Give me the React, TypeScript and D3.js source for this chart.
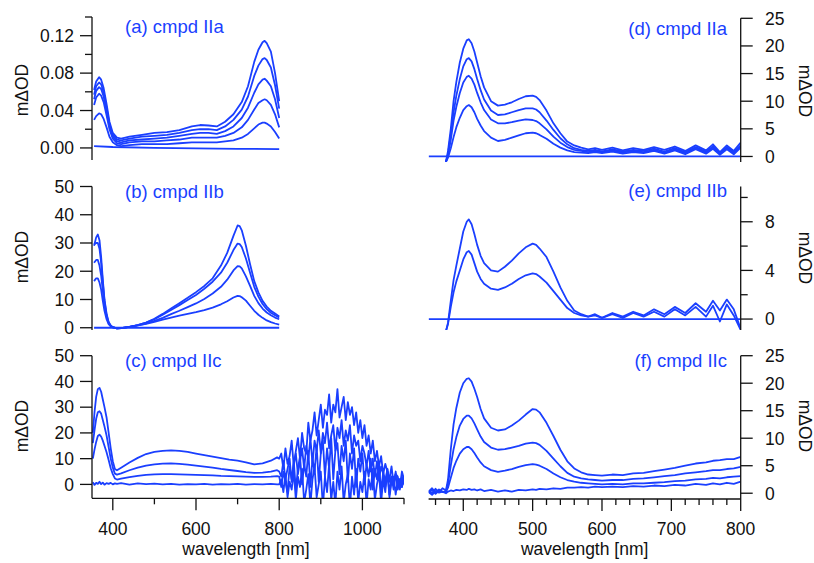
import React from "react";
import * as d3 from "d3";

// ---------- data ----------
const aLambda = [355, 360, 367, 372, 378, 385, 392, 400, 410, 420, 440, 470, 500, 530, 560, 590, 610, 630, 650, 670, 690, 710, 725, 740, 750, 760, 765, 770, 780, 790, 800];
const a1 = [0.062, 0.071, 0.0757, 0.073, 0.064, 0.047, 0.028, 0.016, 0.011, 0.010, 0.012, 0.014, 0.016, 0.017, 0.019, 0.023, 0.0245, 0.024, 0.023, 0.028, 0.036, 0.049, 0.066, 0.092, 0.105, 0.113, 0.1145, 0.112, 0.103, 0.080, 0.050];
const a2 = [0.057, 0.066, 0.070, 0.068, 0.059, 0.043, 0.025, 0.014, 0.009, 0.008, 0.010, 0.012, 0.013, 0.014, 0.016, 0.019, 0.020, 0.020, 0.019, 0.023, 0.030, 0.041, 0.055, 0.077, 0.088, 0.095, 0.096, 0.094, 0.086, 0.067, 0.042];
const a3 = [0.052, 0.061, 0.065, 0.063, 0.055, 0.040, 0.023, 0.012, 0.007, 0.006, 0.008, 0.009, 0.010, 0.011, 0.013, 0.015, 0.016, 0.016, 0.015, 0.018, 0.023, 0.032, 0.043, 0.059, 0.068, 0.073, 0.074, 0.072, 0.066, 0.052, 0.032];
const a4 = [0.046, 0.054, 0.058, 0.056, 0.049, 0.035, 0.020, 0.010, 0.005, 0.004, 0.006, 0.007, 0.007, 0.008, 0.009, 0.011, 0.011, 0.011, 0.011, 0.013, 0.016, 0.022, 0.030, 0.041, 0.048, 0.051, 0.052, 0.051, 0.046, 0.036, 0.022];
const a5 = [0.030, 0.034, 0.037, 0.036, 0.031, 0.022, 0.012, 0.006, 0.003, 0.002, 0.003, 0.004, 0.004, 0.004, 0.005, 0.006, 0.006, 0.006, 0.006, 0.007, 0.008, 0.011, 0.015, 0.021, 0.025, 0.027, 0.027, 0.026, 0.023, 0.017, 0.010];
const a0Lambda = [355, 400, 500, 600, 700, 800];
const a0 = [0.002, 0.001, 0.0, -0.0005, -0.001, -0.0012];

const bLambda = [355, 360, 364, 368, 372, 376, 380, 385, 390, 395, 400, 410, 420, 440, 460, 480, 500, 520, 540, 560, 580, 600, 620, 640, 660, 675, 690, 700, 705, 710, 720, 730, 740, 750, 760, 770, 780, 790, 800];
const b1 = [29, 32, 33, 31, 25, 17, 10, 5, 2, 0.8, 0.2, -0.2, -0.1, 0.3, 0.9, 1.8, 3.2, 4.9, 6.8, 8.7, 10.6, 12.6, 14.8, 17.5, 22, 26.5, 32.5, 36.2, 36, 34.5, 29, 22.5, 16.5, 12.5, 9.5, 7.5, 6, 5, 4];
const b2 = [29.5, 30, 30, 28, 23, 16, 9.5, 4.5, 1.8, 0.7, 0.2, -0.2, -0.1, 0.3, 0.9, 1.8, 3.0, 4.6, 6.3, 8.0, 9.8, 11.6, 13.8, 16.3, 19.5, 23, 27.5, 29.8, 29.6, 28.6, 24.5, 19.5, 14.5, 11, 8.4, 6.6, 5.3, 4.4, 3.6];
const b3 = [23, 24, 24, 22, 18.5, 13, 8, 4, 1.6, 0.6, 0.1, -0.2, -0.1, 0.3, 0.8, 1.5, 2.4, 3.5, 4.8, 6.0, 7.3, 8.6, 10.2, 12.1, 14.5, 17, 20.3, 21.8, 21.7, 21, 18.2, 14.8, 11.3, 8.7, 6.8, 5.4, 4.4, 3.6, 3.0];
const b4 = [16.5, 17.5, 17.5, 16, 13.5, 9.5, 6, 3, 1.3, 0.5, 0.1, -0.2, -0.1, 0.3, 0.8, 1.4, 2.1, 2.9, 3.6, 4.3, 4.9, 5.5, 6.2, 7.1, 8.3, 9.4, 10.7, 11.3, 11.2, 10.8, 9.6, 7.8, 6.0, 4.6, 3.5, 2.6, 2.0, 1.5, 1.1];
const zeroLambdaB = [355, 800];
const zeroB = [0, 0];

const cLambda = [352, 356, 360, 364, 368, 372, 376, 380, 385, 390, 395, 400, 405, 410, 420, 440, 460, 480, 500, 520, 540, 560, 580, 600, 620, 640, 660, 680, 700, 720, 740, 760, 780, 795,
  800, 805, 810, 815, 820, 825, 830, 835, 840, 845, 850, 855, 860, 865, 870, 875, 880, 885, 890, 895, 900, 905, 910, 915, 920, 925, 930, 935, 940, 945, 950, 955, 960, 965, 970, 975, 980, 985, 990, 995, 1000, 1005, 1010, 1015, 1020, 1025, 1030, 1035, 1040, 1045, 1050, 1055, 1060, 1065, 1070, 1075, 1080, 1085, 1090, 1095, 1100];
const c1 = [20, 28, 34, 37, 37.5, 36, 33, 30, 26, 20, 14, 9, 6, 5.5, 6.5, 8.5, 10.3, 11.8, 12.6, 13.0, 13.2, 13.0, 12.6, 12, 11.4, 10.8, 10.2, 9.6, 9.2, 8.6, 7.8, 8.2, 9.2, 10.5,
  10, 12, 6, 14, 8, 11, 17, 7, 13, 18, 10, 20, 14, 12, 24, 17, 21, 28, 19, 25, 31, 22, 29, 27, 35, 24, 31, 28, 37, 26, 30, 34, 25, 32, 27, 30, 23, 28, 20, 25, 18, 23, 15, 19, 12, 17, 9, 13, 7, 11, 4, 8, 5, 2, 7, 0, 4, 3, -1, 5, 2];
const c2 = [16, 21, 25.5, 28, 28.4, 27.5, 25, 22.5, 19, 14.5, 10, 6.5, 4.2, 3.8, 4.3, 5.5, 6.5, 7.3, 7.8, 8.1, 8.2, 8.0, 7.7, 7.3, 6.9, 6.5, 6.0, 5.6, 5.2, 4.8, 4.5, 4.6, 5.0, 5.5,
  5, 3, 9, 2, 6, 10, 1, 8, 12, 4, 9, 14, 6, 15, 10, 18, 8, 17, 13, 21, 12, 20, 16, 24, 14, 19, 23, 13, 22, 18, 25, 15, 21, 17, 23, 12, 19, 15, 17, 9, 15, 12, 7, 13, 5, 10, 3, 9, 2, 7, 4, -1, 6, 1, 3, -2, 4, 0, 2, -1, 3];
const c3 = [10, 13.5, 16.5, 18.8, 19.3, 18.6, 17, 15, 12.5, 9.5, 6.3, 4, 2.3, 1.9, 2.2, 2.8, 3.3, 3.7, 3.9, 4.0, 4.0, 3.9, 3.8, 3.7, 3.6, 3.5, 3.3, 3.2, 3.1, 3.0, 2.9, 2.9, 3.0, 3.2,
  3, -1, 5, 1, -3, 7, 2, 9, -2, 6, 11, 0, 8, 3, 13, -1, 10, 5, 15, 1, 12, 17, 3, 14, 6, 18, 2, 13, 16, 4, 15, 9, 17, 1, 12, 6, 14, -1, 10, 5, 12, 0, 8, 3, 10, -2, 6, 2, 8, -3, 5, 1, 6, -4, 3, 0, 5, -2, 2, -1, 3];
const c0 = [0.8, -0.2, 0.6, 0.2, 1.0, 0.1, 0.7, -0.1, 0.5, 0.2, 0.6, 0.0, 0.4, 0.2, 0.5, -0.1, 0.4, 0.1, 0.3, 0.0, 0.2, -0.1, 0.1, 0.0, 0.2, -0.1, 0.1, 0.0, 0.2, -0.1, 0.1, 0.0, 0.2, 0.0,
  0, 2, -3, 4, -5, 1, -2, 5, -6, 3, -1, 6, -7, -2, 4, -8, 2, 7, -5, 0, 5, -9, 3, -3, 8, -6, 1, -8, 5, -2, 7, -7, 0, 4, -9, 3, -4, 6, -7, 1, -3, 5, -8, 2, -2, 6, -6, 0, 4, -7, 2, -3, 5, -5, 1, 3, -4, 2, -2, 3, 0];

const dLambda = [375, 378, 382, 386, 390, 395, 400, 405, 408, 412, 416, 420, 425, 430, 440, 450, 460, 470, 480, 490, 500, 505, 510, 520, 530, 540, 550, 560, 570, 580, 590, 600, 615, 630, 645, 660, 675, 690, 705, 720, 735, 750, 760, 770, 780, 790, 800];
const d1 = [-1, 1, 5, 10, 13.5, 17, 19.5, 21, 21.2, 20.5, 19, 17, 14.5, 12.5, 10, 9.2, 9.4, 9.8, 10.4, 10.9, 11, 10.8, 10.2, 8.3, 6, 4.2, 2.7, 2, 1.6, 1.3, 1.5, 1.2, 1.6, 1.1, 1.5, 1.2, 1.7, 1.2, 1.8, 1.0, 2.0, 1.1, 2.2, 0.8, 2.0, 1.0, 2.5];
const d2 = [-1, 0.5, 4, 8, 11, 14, 16.3, 17.6, 17.8, 17.2, 15.8, 14, 12, 10.3, 8.3, 7.5, 7.6, 8.0, 8.4, 8.7, 8.7, 8.5, 8, 6.5, 4.8, 3.3, 2.2, 1.5, 1.2, 1.0, 1.2, 0.9, 1.3, 0.9, 1.2, 1.0, 1.4, 0.9, 1.5, 0.8, 1.7, 0.9, 1.8, 0.6, 1.7, 0.8, 2.0];
const d3v = [-1, 0.3, 3, 6.5, 9, 11.5, 13.4, 14.4, 14.6, 14.1, 13, 11.5, 9.8, 8.4, 6.7, 6.0, 6.0, 6.2, 6.5, 6.7, 6.6, 6.4, 6.0, 4.9, 3.6, 2.5, 1.7, 1.2, 1.0, 0.8, 1.0, 0.8, 1.1, 0.7, 1.0, 0.8, 1.2, 0.7, 1.3, 0.6, 1.5, 0.7, 1.6, 0.5, 1.5, 0.6, 1.8];
const d4 = [-1, -0.2, 1.5, 3.5, 5.3, 7, 8.4, 9.1, 9.3, 8.9, 8, 6.8, 5.6, 4.6, 3.4, 2.8, 3.0, 3.4, 3.8, 4.2, 4.3, 4.2, 3.9, 3.2, 2.3, 1.6, 1.1, 0.8, 0.7, 0.6, 0.8, 0.6, 0.9, 0.5, 0.8, 0.6, 1.0, 0.5, 1.1, 0.4, 1.3, 0.5, 1.4, 0.3, 1.3, 0.4, 1.6];
const zeroLambdaR = [350, 800];
const zeroR = [0, 0];

const e1 = [-1, -0.3, 1.5, 3.2, 4.4, 5.8, 7.2, 8.0, 8.2, 7.8, 7.0, 6.1, 5.2, 4.6, 4.0, 3.9, 4.3, 4.8, 5.4, 5.9, 6.2, 6.1, 5.8, 5.1, 3.9, 2.6, 1.5, 0.7, 0.4, 0.2, 0.4, 0.1, 0.5, 0.2, 0.6, 0.3, 0.8, 0.4, 1.0, 0.5, 1.3, 0.6, 1.5, 0.7, 1.6, 0.8, -0.8];
const e2 = [-1, -0.4, 1.0, 2.2, 3.1, 4.0, 4.9, 5.5, 5.6, 5.3, 4.6, 3.9, 3.3, 2.9, 2.5, 2.4, 2.6, 2.9, 3.3, 3.6, 3.75, 3.7, 3.5, 3.0, 2.3, 1.6, 0.9, 0.5, 0.3, 0.2, 0.3, 0.1, 0.4, 0.1, 0.5, 0.2, 0.6, 0.2, 0.8, 0.3, 1.0, 0.2, 1.1, -0.2, 1.2, 0.3, -0.9];

const fLambda = [350, 355, 360, 365, 370, 375, 378, 382, 386, 390, 395, 400, 405, 408, 412, 416, 420, 425, 430, 440, 450, 460, 470, 480, 490, 500, 505, 510, 520, 530, 540, 550, 560, 570, 580, 590, 600, 615, 630, 645, 660, 675, 690, 705, 720, 735, 750, 760, 770, 780, 790, 800];
const f1 = [0.5, 0, 0.8, 0.2, 0.9, 0.5, 2.5, 8, 12.5, 15.5, 18.3, 20, 20.8, 20.9, 20.3, 19, 17.5, 15.3, 13.6, 11.9, 11.4, 11.6, 12.3, 13.2, 14.3, 15.3, 15.2, 14.7, 12.8, 10.4, 7.9, 5.8, 4.5, 3.8, 3.4, 3.3, 3.2, 3.4, 3.3, 3.6, 3.7, 4.0, 4.3, 4.6, 5.0, 5.4, 5.6, 5.9, 6.0, 6.2, 6.2, 6.6];
const f2 = [0.3, 0.9, 0.1, 0.7, 0.2, 0.4, 1.8, 5, 8, 10.2, 12.3, 13.5, 14.1, 14.1, 13.6, 12.7, 11.6, 10.3, 9.3, 8.3, 7.9, 8.0, 8.3, 8.6, 9.0, 9.2, 9.1, 8.8, 7.7, 6.3, 4.9, 3.7, 3.0, 2.7, 2.5, 2.4, 2.3, 2.4, 2.4, 2.6, 2.7, 2.9, 3.1, 3.3, 3.6, 3.8, 4.0, 4.2, 4.2, 4.4, 4.5, 4.8];
const f3 = [0.1, 0.6, -0.1, 0.5, 0.3, 0.2, 1.0, 2.8, 4.6, 5.9, 7.2, 8.0, 8.4, 8.4, 8.0, 7.3, 6.5, 5.6, 4.9, 4.2, 3.9, 4.1, 4.4, 4.8, 5.1, 5.3, 5.2, 5.0, 4.4, 3.6, 2.9, 2.4, 2.1, 1.9, 1.8, 1.7, 1.6, 1.7, 1.6, 1.8, 1.8, 1.9, 2.0, 2.2, 2.3, 2.5, 2.6, 2.8, 2.7, 2.9, 3.0, 3.1];
const f4 = [0.2, -0.3, 0.4, 0.1, 0.3, 0.0, 0.3, 0.5, 0.4, 0.6, 0.5, 0.7, 0.6, 0.8, 0.6, 0.7, 0.5, 0.7, 0.4, 0.6, 0.3, 0.5, 0.3, 0.6, 0.5, 0.7, 0.6, 0.8, 0.7, 0.9, 0.8, 1.0, 1.0, 1.1, 1.0, 1.2, 1.1, 1.2, 1.1, 1.3, 1.2, 1.4, 1.3, 1.5, 1.4, 1.7, 1.5, 1.8, 1.6, 1.9, 1.7, 2.1];

// ticks
const aTicks = [0, 0.04, 0.08, 0.12];
const aTickLabels = ["0.00", "0.04", "0.08", "0.12"];
const aMinor = [0.02, 0.06, 0.10, 0.14];
const bTicks = [0, 10, 20, 30, 40, 50];
const cTicks = [0, 10, 20, 30, 40, 50];
const dTicks = [0, 5, 10, 15, 20, 25];
const eTicks = [0, 4, 8];
const eMinor = [2, 6, 10];
const fTicks = [0, 5, 10, 15, 20, 25];
const xLeftTicks = [400, 600, 800, 1000];
const xLeftMinor = [500, 700, 900, 1100];
const xRightTicks = [400, 500, 600, 700, 800];
const xRightMinor = [360, 380, 420, 440, 460, 480, 520, 540, 560, 580, 620, 640, 660, 680, 720, 740, 760, 780];

const titles = ["(a) cmpd IIa", "(b) cmpd IIb", "(c) cmpd IIc", "(d) cmpd IIa", "(e) cmpd IIb", "(f) cmpd IIc"];

// ---------- layout ----------
const BLUE = "#1a3fff";
const FONT = "'Liberation Sans', Arial, sans-serif";
const xL = d3.scaleLinear().domain([350, 1100]).range([92, 404]);
const xR = d3.scaleLinear().domain([350, 800]).range([428.6, 740.7]);

type Series = { lam: number[]; val: number[] };
type PanelDef = {
  id: string;
  side: "left" | "right";
  y: d3.ScaleLinear<number, number>;
  ticks: number[];
  tickLabels?: string[];
  minor?: number[];
  series: Series[];
  title: string;
  titleY: number;
  labelY: number;
  xAxis?: boolean;
};

const S = (lam: number[], val: number[]): Series => ({ lam, val });

const panels: PanelDef[] = [
  {
    id: "a", side: "left", y: d3.scaleLinear().domain([-0.0129, 0.14]).range([160, 17]),
    ticks: aTicks, tickLabels: aTickLabels, minor: aMinor,
    series: [S(aLambda, a1), S(aLambda, a2), S(aLambda, a3), S(aLambda, a4), S(aLambda, a5), S(a0Lambda, a0)],
    title: titles[0], titleY: 33, labelY: 90,
  },
  {
    id: "b", side: "left", y: d3.scaleLinear().domain([-0.8, 50]).range([330, 186.5]),
    ticks: bTicks, series: [S(bLambda, b1), S(bLambda, b2), S(bLambda, b3), S(bLambda, b4), S(zeroLambdaB, zeroB)],
    title: titles[1], titleY: 198, labelY: 257,
  },
  {
    id: "c", side: "left", y: d3.scaleLinear().domain([-5.4, 50]).range([498.3, 355.7]),
    ticks: cTicks, series: [S(cLambda, c1), S(cLambda, c2), S(cLambda, c3), S(cLambda, c0)],
    title: titles[2], titleY: 367, labelY: 426, xAxis: true,
  },
  {
    id: "d", side: "right", y: d3.scaleLinear().domain([-1, 25]).range([162, 18.3]),
    ticks: dTicks, series: [S(dLambda, d1), S(dLambda, d2), S(dLambda, d3v), S(dLambda, d4), S(zeroLambdaR, zeroR)],
    title: titles[3], titleY: 35, labelY: 91,
  },
  {
    id: "e", side: "right", y: d3.scaleLinear().domain([-0.9, 10.9]).range([330, 186.5]),
    ticks: eTicks, minor: eMinor, series: [S(dLambda, e1), S(dLambda, e2), S(zeroLambdaR, zeroR)],
    title: titles[4], titleY: 197, labelY: 258,
  },
  {
    id: "f", side: "right", y: d3.scaleLinear().domain([-1.05, 25]).range([499, 355.7]),
    ticks: fTicks, series: [S(fLambda, f1), S(fLambda, f2), S(fLambda, f3), S(fLambda, f4)],
    title: titles[5], titleY: 367, labelY: 426, xAxis: true,
  },
];

function Panel({ p }: { p: PanelDef }) {
  const x = p.side === "left" ? xL : xR;
  const [y0, y1] = p.y.range();
  const axisX = p.side === "left" ? 92 : 740.7;
  const dir = p.side === "left" ? -1 : 1;
  const line = d3
    .line<[number, number]>()
    .x((d) => x(d[0]))
    .y((d) => p.y(d[1]))
    .curve(d3.curveLinear);
  const clipId = `clip-${p.id}`;
  const xr = x.range();
  return (
    <g>
      <defs>
        <clipPath id={clipId}>
          <rect x={xr[0]} y={y1} width={xr[1] - xr[0]} height={y0 - y1} />
        </clipPath>
      </defs>
      <g clipPath={`url(#${clipId})`}>
        {p.series.map((s, i) => (
          <path
            key={i}
            d={line(s.lam.map((l, k) => [l, s.val[k]] as [number, number])) || ""}
            fill="none"
            stroke={BLUE}
            strokeWidth={1.8}
            strokeLinejoin="round"
          />
        ))}
      </g>
      <line x1={axisX} x2={axisX} y1={y1} y2={y0} stroke="#111" strokeWidth={1.3} />
      {p.ticks.map((t, i) => (
        <g key={"t" + i}>
          <line x1={axisX} x2={axisX + dir * 12} y1={p.y(t)} y2={p.y(t)} stroke="#111" strokeWidth={1.3} />
          <text
            x={p.side === "left" ? 74 : 765}
            y={p.y(t)}
            dy="0.36em"
            textAnchor={p.side === "left" ? "end" : "start"}
            fontSize={17.5}
            fontFamily={FONT}
            fill="#111"
          >
            {p.tickLabels ? p.tickLabels[i] : String(t)}
          </text>
        </g>
      ))}
      {(p.minor || []).map((t, i) => (
        <line key={"m" + i} x1={axisX} x2={axisX + dir * 7} y1={p.y(t)} y2={p.y(t)} stroke="#111" strokeWidth={1.3} />
      ))}
      {p.side === "left" ? (
        <text transform={`translate(27.5,${p.labelY}) rotate(-90)`} textAnchor="middle" fontSize={17.5} fontFamily={FONT} fill="#111">
          mΔOD
        </text>
      ) : (
        <text transform={`translate(798.5,${p.labelY}) rotate(90)`} textAnchor="middle" fontSize={17.5} fontFamily={FONT} fill="#111">
          mΔOD
        </text>
      )}
      <text
        x={p.side === "left" ? 125 : 727}
        y={p.titleY}
        textAnchor={p.side === "left" ? "start" : "end"}
        fontSize={18.5}
        fontFamily={FONT}
        fill={BLUE}
      >
        {p.title}
      </text>
      {p.xAxis && (
        <g>
          <line x1={xr[0]} x2={xr[1]} y1={y0} y2={y0} stroke="#111" strokeWidth={1.3} />
          {(p.side === "left" ? xLeftTicks : xRightTicks).map((t, i) => (
            <g key={"xt" + i}>
              <line x1={x(t)} x2={x(t)} y1={y0} y2={y0 + 12} stroke="#111" strokeWidth={1.3} />
              <text x={x(t)} y={535} textAnchor="middle" fontSize={17.5} fontFamily={FONT} fill="#111">
                {String(t)}
              </text>
            </g>
          ))}
          {(p.side === "left" ? xLeftMinor : xRightMinor).map((t, i) => (
            <line key={"xm" + i} x1={x(t)} x2={x(t)} y1={y0} y2={y0 + 6} stroke="#111" strokeWidth={1.3} />
          ))}
          <text
            x={(xr[0] + xr[1]) / 2 + (p.side === "left" ? -2 : 0)}
            y={555}
            textAnchor="middle"
            fontSize={17.5}
            fontFamily={FONT}
            fill="#111"
          >
            wavelength [nm]
          </text>
        </g>
      )}
    </g>
  );
}

export default function App() {
  return (
    <svg width={814} height={563} style={{ position: "absolute", left: 0, top: 0, background: "#fff" }}>
      <rect x={0} y={0} width={814} height={563} fill="#fff" />
      {panels.map((p) => (
        <Panel key={p.id} p={p} />
      ))}
    </svg>
  );
}
